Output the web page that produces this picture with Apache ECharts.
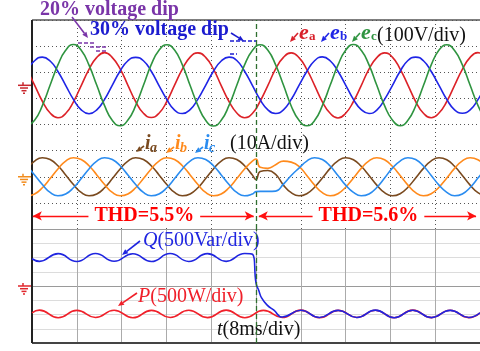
<!DOCTYPE html>
<html>
<head>
<meta charset="utf-8">
<script src="https://cdn.jsdelivr.net/npm/echarts@6/dist/echarts.min.js"></script>
<style>
html, body { margin: 0; padding: 0; background: #fff; }
#chart { width: 480px; height: 351px; }
</style>
</head>
<body>
<div id="chart"></div>
<script>
// sample instants (ms), 8 ms per division
var timeV = [-0.93, 0.46, 1.85, 3.24, 4.63, 6.01, 7.40, 8.79, 10.18, 11.57, 12.96, 14.35,
	15.74, 17.13, 18.51, 19.90, 21.29, 22.68, 24.07, 25.46, 26.85, 28.24, 29.63, 31.01,
	32.40, 33.79, 35.18, 36.57, 37.96, 39.35, 40.74, 42.13, 43.51, 44.90, 46.29, 47.68,
	49.07, 50.46, 51.85, 53.24, 54.63, 56.01, 57.40, 58.79, 60.18, 61.57, 62.96, 64.35,
	65.74, 67.13, 68.51, 69.90, 71.29, 72.68, 74.07, 75.46, 76.85, 78.24, 79.63, 81.01];

// grid voltages (V), 100 V per division
var ea = [62, 1, -61, -106, -124, -108, -63, -1, 61, 107, 125, 106,
	63, 0, -62, -107, -123, -107, -62, 1, 62, 108, 124, 107,
	62, -1, -62, -106, -124, -108, -61, 0, 63, 107, 124, 106,
	61, 0, -63, -107, -125, -107, -62, -1, 62, 106, 124, 108,
	62, 1, -62, -107, -124, -106, -62, 0, 61, 107, 125, 107];
var eb = [54, 94, 108, 93, 53, 0, -54, -94, -109, -94, -54, 1,
	55, 94, 107, 94, 54, -1, -54, -95, -108, -93, -53, 0,
	54, 93, 108, 95, 54, 0, -55, -94, -108, -94, -54, 0,
	53, 94, 109, 94, 54, 1, -54, -93, -108, -95, -54, -1,
	54, 95, 108, 94, 53, 0, -54, -94, -107, -94, -55, 0];
var ec = [-155, -134, -78, 1, 78, 134, 156, 134, 77, 0, -78, -135,
	-155, -133, -78, 0, 79, 134, 155, 135, 78, -1, -78, -134,
	-156, -134, -77, 0, 78, 133, 155, 134, 78, 1, -79, -134,
	-155, -135, -78, 0, 77, 134, 156, 134, 78, 0, -78, -133,
	-155, -134, -79, -1, 78, 135, 155, 133, 78, 0, -77, -134];

// currents (A), 10 A per division
var timeI = [-0.93, 0.46, 1.85, 3.24, 4.63, 6.01, 7.40, 8.79, 10.18, 11.57, 12.96, 14.35,
	15.74, 17.13, 18.51, 19.90, 21.29, 22.68, 24.07, 25.46, 26.85, 28.24, 29.63, 31.01,
	32.40, 33.79, 35.18, 36.57, 37.96, 39.35, 40.00, 40.74, 42.13, 43.51, 44.90, 46.29, 47.68,
	49.07, 50.46, 51.85, 53.24, 54.63, 56.01, 57.40, 58.79, 60.18, 61.57, 62.96, 64.35,
	65.74, 67.13, 68.51, 69.90, 71.29, 72.68, 74.07, 75.46, 76.85, 78.24, 79.63, 81.01];
var ia = [3.0, 6.0, 7.3, 6.6, 4.2, 0.7, -3.0, -6.0, -7.3, -6.6, -4.2, -0.7,
	3.0, 6.0, 7.3, 6.6, 4.2, 0.7, -3.0, -6.0, -7.3, -6.6, -4.2, -0.7,
	3.0, 6.0, 7.3, 6.6, 4.2, 0.7, -1.1, 2.0, 2.4, 0.9, -3.2, -6.1,
	-7.3, -6.5, -4.0, -0.5, 3.2, 6.1, 7.3, 6.5, 4.0, 0.5, -3.2, -6.1,
	-7.3, -6.5, -4.0, -0.5, 3.2, 6.1, 7.3, 6.5, 4.0, 0.5, -3.2, -6.1, -7.3];
var ib = [-7.3, -6.6, -4.2, -0.7, 3.0, 6.0, 7.3, 6.6, 4.2, 0.7, -3.0, -6.0,
	-7.3, -6.6, -4.2, -0.7, 3.0, 6.0, 7.3, 6.6, 4.2, 0.7, -3.0, -6.0,
	-7.3, -6.6, -4.2, -0.7, 3.0, 6.0, 6.8, 3.6, 3.2, 4.6, 6.0, 5.6,
	4.0, 0.5, -3.2, -6.1, -7.3, -6.5, -4.0, -0.5, 3.2, 6.1, 7.3, 6.5,
	4.0, 0.5, -3.2, -6.1, -7.3, -6.5, -4.0, -0.5, 3.2, 6.1, 7.3, 6.5, 4.0];
var ic = [4.2, 0.7, -3.0, -6.0, -7.3, -6.6, -4.2, -0.7, 3.0, 6.0, 7.3, 6.6,
	4.2, 0.7, -3.0, -6.0, -7.3, -6.6, -4.2, -0.7, 3.0, 6.0, 7.3, 6.6,
	4.2, 0.7, -3.0, -6.0, -7.3, -6.6, -5.7, -5.6, -5.6, -5.5, -2.8, 0.5,
	3.3, 6.0, 7.3, 6.6, 4.1, 0.5, -3.2, -6.0, -7.3, -6.6, -4.1, -0.5,
	3.3, 6.0, 7.3, 6.6, 4.1, 0.5, -3.2, -6.0, -7.3, -6.6, -4.1, -0.5, 3.3];

// active / reactive power, 500 per division
var timeP = [0, 1.33, 4.67, 8.00, 11.33, 14.67, 18.00, 21.33, 24.67, 28.00, 31.33, 34.67,
	38.00, 41.33, 44.67, 48.00, 51.33, 54.67, 58.00, 61.33, 64.67, 68.00, 71.33, 74.67, 78.00, 80];
var P = [-470, -424, -556, -428, -553, -425, -557, -427, -552, -426, -555, -424,
	-556, -428, -553, -423, -556, -427, -552, -425, -557, -424, -554, -426, -555, -472];
var timeQ = [0, 1.33, 4.67, 8.00, 11.33, 14.67, 18.00, 21.33, 24.67, 28.00, 31.33, 34.67,
	38.00, 39.4, 40.0, 40.5, 41.0, 42.0, 43.2, 44.67, 48.00, 51.33, 54.67, 58.00, 61.33,
	64.67, 68.00, 71.33, 74.67, 78.00, 80];
var Q = [478, 432, 568, 430, 570, 433, 567, 430, 569, 431, 568, 432,
	570, 555, 55, -80, -210, -335, -425, -545, -426, -553, -428, -552, -424,
	-556, -425, -554, -427, -552, -470];

// THD of the grid current before / after the dip
var thdSpans = [[0.15, 39.6], [40.5, 79.3]];
var thdText = ["THD=5.5%", "THD=5.6%"];

var FONT = "Liberation Serif";
var GL = 32, GT = 20, GW = 450, H1 = 209, H2 = 114;

function pairs(t, v) {
	return t.map(function (x, i) { return [x, v[i]]; });
}

function trace(name, t, v, color, xi, yi, extra) {
	var s = {
		name: name,
		type: "line",
		xAxisIndex: xi,
		yAxisIndex: yi,
		data: pairs(t, v),
		smooth: true,
		showSymbol: false,
		symbol: "none",
		lineStyle: { color: color, width: 1.6 },
		silent: true
	};
	for (var k in extra) s[k] = extra[k];
	return s;
}

function arrow(x1, y1, x2, y2, color) {
	var a = Math.atan2(y2 - y1, x2 - x1), L = 6, W = 2.6;
	var bx = x2 - L * Math.cos(a), by = y2 - L * Math.sin(a);
	return [
		{ type: "line", shape: { x1: x1, y1: y1, x2: bx, y2: by }, style: { stroke: color, lineWidth: 1.6 } },
		{ type: "polygon", shape: { points: [[x2, y2], [bx - W * Math.sin(a), by + W * Math.cos(a)], [bx + W * Math.sin(a), by - W * Math.cos(a)]] }, style: { fill: color } }
	];
}

function label(x, y, text, color, size, weight, style) {
	return {
		type: "text", x: x, y: y,
		style: {
			text: text, fill: color, fontFamily: FONT, fontSize: size,
			fontWeight: weight || "normal", fontStyle: style || "normal",
			verticalAlign: "middle", align: "left"
		}
	};
}

function ground(y, color) {
	var l = function (x1, y1, x2, y2) {
		return { type: "line", shape: { x1: x1, y1: y1, x2: x2, y2: y2 }, style: { stroke: color, lineWidth: 1.5 } };
	};
	return [l(18, y, 31, y), l(23, y - 3, 23, y), l(20, y + 2.7, 28, y + 2.7), l(21.5, y + 5.4, 26.5, y + 5.4), l(23, y + 8, 25, y + 8)];
}

var chart = echarts.init(document.getElementById("chart"));

var dotted = { show: true, lineStyle: { color: "#555", type: [1, 3], width: 1 } };
var hidden = { axisLine: { show: false }, axisTick: { show: false }, axisLabel: { show: false } };

chart.setOption({
	animation: false,
	backgroundColor: "#fff",
	grid: [
		{ left: GL, top: GT, width: GW, height: H1 },
		{ left: GL, top: GT + H1, width: GW, height: H2 }
	],
	xAxis: [
		Object.assign({ gridIndex: 0, type: "value", min: 0, max: 80, interval: 8, splitLine: dotted }, hidden),
		Object.assign({ gridIndex: 1, type: "value", min: 0, max: 80, interval: 8,
			splitLine: { show: true, lineStyle: { color: "#ababab", width: 1 } } }, hidden)
	],
	yAxis: [
		Object.assign({ gridIndex: 0, type: "value", min: 0, max: 8, interval: 1, splitLine: dotted }, hidden),
		{ gridIndex: 0, type: "value", min: -550, max: 250, show: false },
		{ gridIndex: 0, type: "value", min: -20, max: 60, show: false },
		Object.assign({ gridIndex: 1, type: "value", min: -1000, max: 1000, interval: 250,
			splitLine: { show: true, lineStyle: { color: ["#9a9a9a", "#dcdcdc", "#dcdcdc", "#dcdcdc"], width: 1 } } }, hidden)
	],
	series: [
		trace("ea", timeV, ea, "#dc2228", 0, 1, {
			markLine: {
				silent: true, symbol: "none", label: { show: false },
				lineStyle: { color: "#2f6f2f", type: [5, 3], width: 1.3 },
				data: [{ xAxis: 40 }]
			}
		}),
		trace("eb", timeV, eb, "#1f25e6", 0, 1),
		trace("ec", timeV, ec, "#2f9440", 0, 1),
		trace("ia", timeI, ia, "#7a4a1f", 0, 2, {
			markLine: {
				silent: true,
				symbol: ["arrow", "arrow"],
				symbolSize: [7, 9],
				lineStyle: { color: "#ff1010", type: "solid", width: 1.3 },
				label: { show: false },
				data: thdSpans.map(function (s) { return [{ coord: [s[0], -15] }, { coord: [s[1], -15] }]; })
			}
		}),
		trace("ib", timeI, ib, "#ff8a1c", 0, 2),
		trace("ic", timeI, ic, "#2a8cf0", 0, 2),
		trace("P", timeP, P, "#f0202a", 1, 3, {
			markLine: {
				silent: true, symbol: "none", label: { show: false },
				lineStyle: { color: "#2f6f2f", type: [5, 3], width: 1.3 },
				data: [{ xAxis: 40 }]
			}
		}),
		trace("Q", timeQ, Q, "#1f25e0", 1, 3)
	]
});

// channel reference markers sit at each channel's zero
var yV = chart.convertToPixel({ yAxisIndex: 1 }, 0);
var yI = chart.convertToPixel({ yAxisIndex: 2 }, 0);
var yPQ = chart.convertToPixel({ yAxisIndex: 3 }, 0);

var g = [];
// frame
g.push({ type: "line", shape: { x1: GL, y1: GT, x2: GL + GW, y2: GT }, style: { stroke: "#555", lineWidth: 1.5 } });
g.push({ type: "line", shape: { x1: GL, y1: GT + H1 + H2, x2: GL + GW, y2: GT + H1 + H2 }, style: { stroke: "#444", lineWidth: 2 } });
g.push({ type: "line", shape: { x1: GL, y1: GT, x2: GL, y2: GT + H1 + H2 }, style: { stroke: "#222", lineWidth: 2 } });

g = g.concat(ground(yV, "#c8262c"), ground(yI, "#f28c1c"), ground(yPQ, "#e0262c"));

// THD captions sit on the arrow lines, masking them
thdSpans.forEach(function (s, i) {
	var p = chart.convertToPixel({ xAxisIndex: 0, yAxisIndex: 2 }, [(s[0] + s[1]) / 2, -15]);
	g.push({
		type: "text", x: p[0] + 1, y: p[1], z: 100,
		style: { text: thdText[i], fill: "#ff0000", fontFamily: FONT, fontSize: 20, fontWeight: "bold",
			align: "center", verticalAlign: "middle", backgroundColor: "#fff", padding: [1, 6] }
	});
});

// dip level marks
var dash = function (x1, y1, x2, y2, c) {
	return { type: "line", shape: { x1: x1, y1: y1, x2: x2, y2: y2 }, style: { stroke: c, lineWidth: 1.4, lineDash: [4, 2] } };
};
g.push(dash(78, 43, 96, 43, "#7a35a8"), dash(90, 47, 108, 47, "#7a35a8"), dash(96, 51, 108, 51, "#7a35a8"));
g.push(dash(230, 41, 257, 41, "#1c1ccf"), dash(230, 54, 237, 54, "#1c1ccf"));

g.push(label(40, 10, "20% voltage dip", "#7a35a8", 20, "bold"));
g.push(label(90, 30, "30% voltage dip", "#1c1ccf", 20, "bold"));
g = g.concat(arrow(72, 17, 88, 38, "#7a35a8"), arrow(231, 33, 244, 41, "#1c1ccf"));

g.push(label(299, 33, "e", "#d8202a", 22, "bold", "italic"), label(309, 37, "a", "#d8202a", 13, "bold"));
g.push(label(330, 33, "e", "#1f25e6", 22, "bold", "italic"), label(340, 37, "b", "#1f25e6", 13, "bold"));
g.push(label(361, 33, "e", "#2f9440", 22, "bold", "italic"), label(371, 37, "c", "#2f9440", 13, "bold"));
g.push(label(377, 36, "(100V/div)", "#111", 20));
g = g.concat(arrow(298, 33, 290, 42, "#d8202a"), arrow(329, 33, 321, 42, "#1f25e6"), arrow(360, 33, 352, 42, "#2f9440"));

g.push(label(145, 144, "i", "#7a4a1f", 20, "bold", "italic"), label(150, 148, "a", "#7a4a1f", 14, "bold", "italic"));
g.push(label(175, 144, "i", "#ff8a1c", 20, "bold", "italic"), label(180, 148, "b", "#ff8a1c", 14, "bold", "italic"));
g.push(label(204, 144, "i", "#2a8cf0", 20, "bold", "italic"), label(209, 148, "c", "#2a8cf0", 14, "bold", "italic"));
g.push(label(230, 144, "(10A/div)", "#111", 20));
g = g.concat(arrow(144, 146, 136, 152, "#7a4a1f"), arrow(174, 147, 166, 153, "#ff8a1c"), arrow(203, 147, 195, 153, "#2a8cf0"));

g.push({
	type: "text", x: 143, y: 241,
	style: { text: "{i|Q}(500Var/div)", fill: "#1f25e0", fontFamily: FONT, fontSize: 20, verticalAlign: "middle",
		rich: { i: { fontStyle: "italic", fontFamily: FONT, fontSize: 20, fill: "#1f25e0" } } }
});
g.push({
	type: "text", x: 138, y: 297,
	style: { text: "{i|P}(500W/div)", fill: "#f0202a", fontFamily: FONT, fontSize: 20, verticalAlign: "middle",
		rich: { i: { fontStyle: "italic", fontFamily: FONT, fontSize: 20, fill: "#f0202a" } } }
});
g.push({
	type: "text", x: 217, y: 330,
	style: { text: "{i|t}(8ms/div)", fill: "#111", fontFamily: FONT, fontSize: 20, verticalAlign: "middle",
		rich: { i: { fontStyle: "italic", fontFamily: FONT, fontSize: 20, fill: "#111" } } }
});
g = g.concat(arrow(140, 241, 122, 255, "#1f25e0"), arrow(137, 293, 118, 306, "#f0202a"));

chart.setOption({ graphic: { elements: g } });
</script>
</body>
</html>
